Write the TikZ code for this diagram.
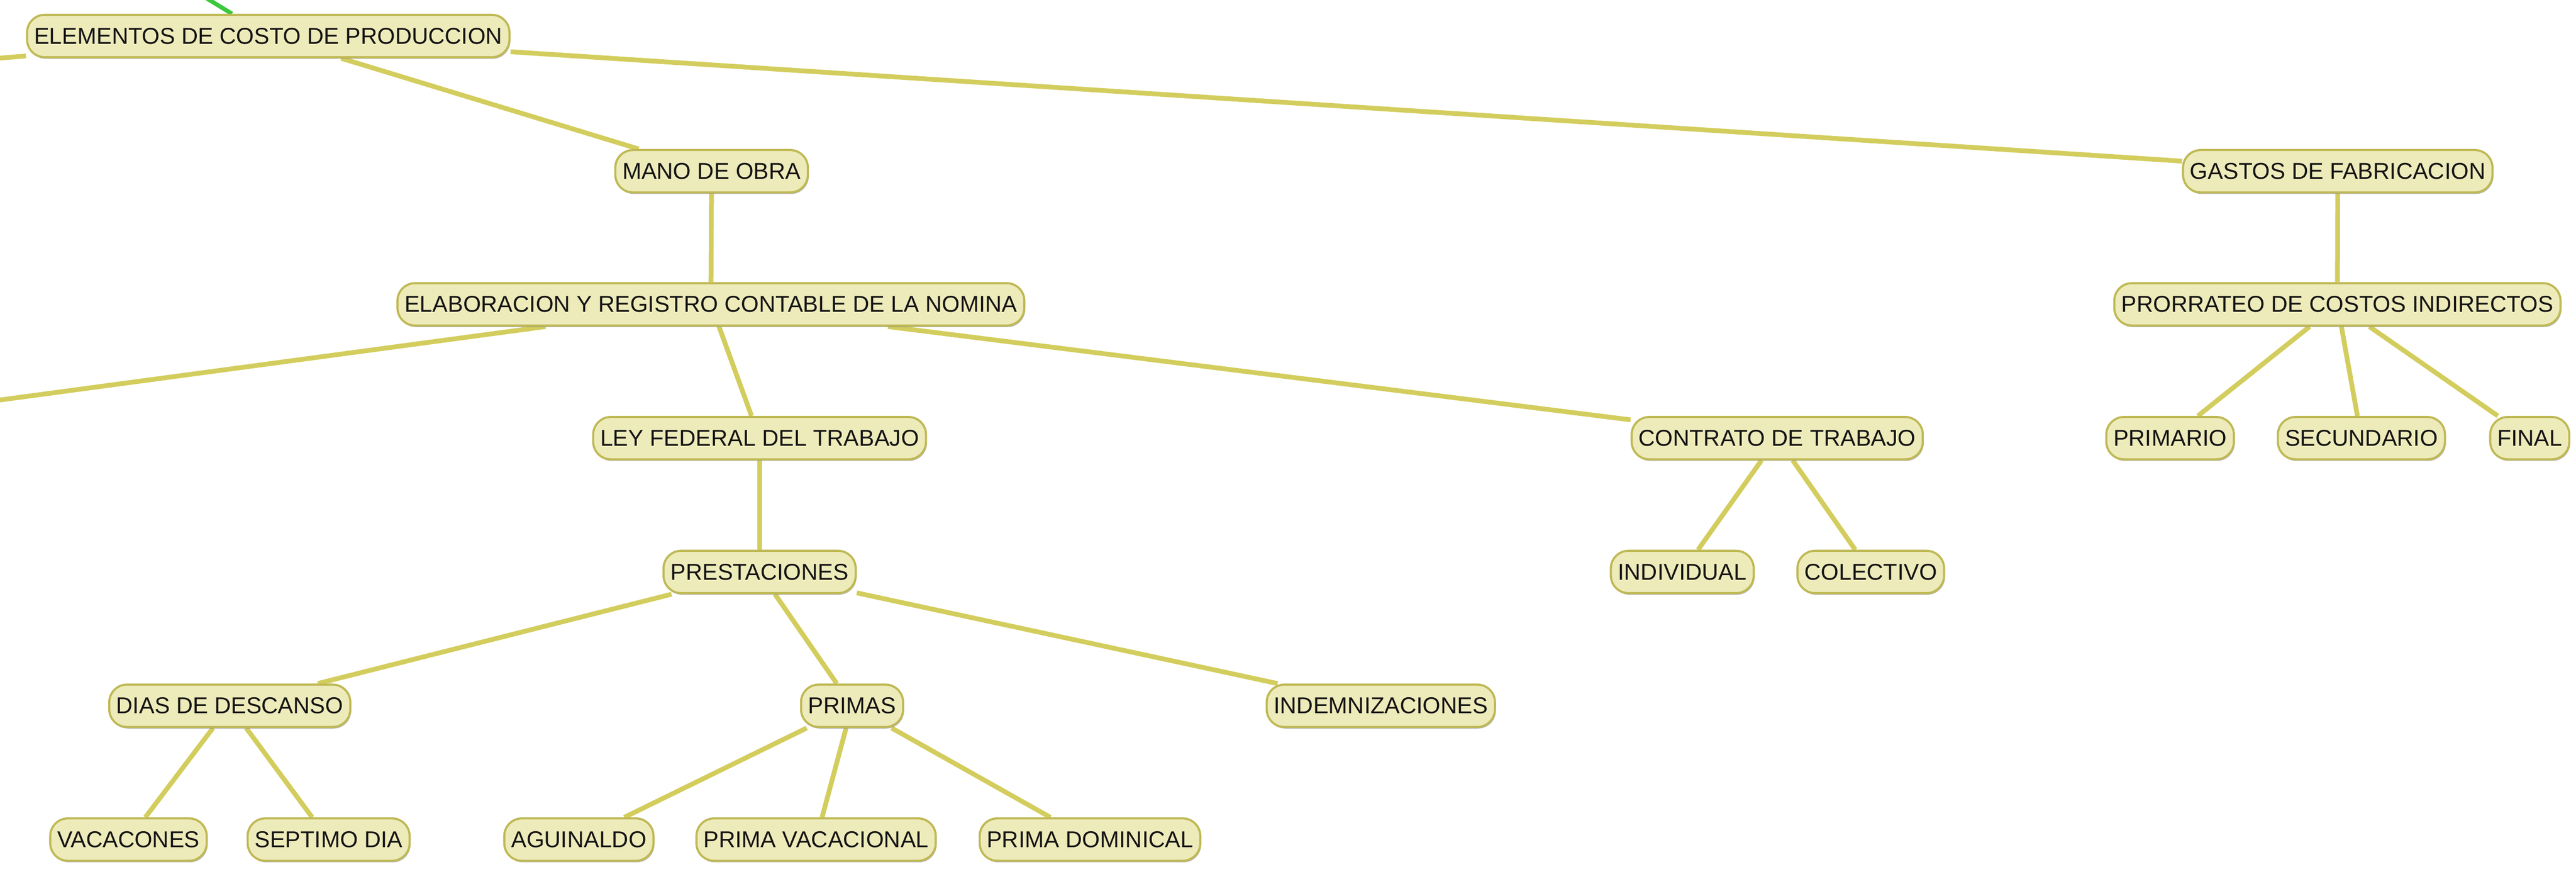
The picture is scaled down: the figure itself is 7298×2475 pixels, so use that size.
\documentclass[tikz,border=0pt]{standalone}
\usepackage{fontspec}
\setmainfont{Liberation Sans}
\usetikzlibrary{shadows}
\definecolor{cfill}{HTML}{EEEBBB}
\definecolor{cborder}{HTML}{BFB955}
\definecolor{linkcol}{HTML}{D3CD5E}
\definecolor{greenlink}{HTML}{3CC83C}
\pgfdeclarelayer{background}
\pgfsetlayers{background,main}
\tikzset{
  concept/.style={draw=cborder, line width=0.6pt, fill=cfill, rounded corners=5pt,
    minimum height=12pt, inner xsep=2.0pt, inner ysep=0pt, text=black!92,
    font=\fontsize{6.5pt}{7.8pt}\selectfont,
    drop shadow={shadow xshift=0.25pt, shadow yshift=-0.45pt, fill=black!50, opacity=0.55}},
  link/.style={draw=linkcol, line width=1.35pt},
  glink/.style={draw=greenlink, line width=1.2pt}
}
\begin{document}
\begin{tikzpicture}[x=0.1pt, y=-0.1pt]
\useasboundingbox (0,0) rectangle (7298,2475);
% nodes
\node[concept] (elem) at (760,102) {ELEMENTOS DE COSTO DE PRODUCCION};
\node[concept] (mano) at (2016,485) {MANO DE OBRA};
\node[concept] (gastos) at (6623,485) {GASTOS DE FABRICACION};
\node[concept] (elab) at (2014,862) {ELABORACION Y REGISTRO CONTABLE DE LA NOMINA};
\node[concept] (prorr) at (6622,862) {PRORRATEO DE COSTOS INDIRECTOS};
\node[concept] (ley) at (2152,1241) {LEY FEDERAL DEL TRABAJO};
\node[concept] (contrato) at (5035,1241) {CONTRATO DE TRABAJO};
\node[concept] (primario) at (6148,1241) {PRIMARIO};
\node[concept] (secund) at (6690,1241) {SECUNDARIO};
\node[concept] (final) at (7167,1241) {FINAL};
\node[concept] (prest) at (2152,1620) {PRESTACIONES};
\node[concept] (indiv) at (4766,1620) {INDIVIDUAL};
\node[concept] (colect) at (5300,1620) {COLECTIVO};
\node[concept] (dias) at (651,1999) {DIAS DE DESCANSO};
\node[concept] (primas) at (2414,1999) {PRIMAS};
\node[concept] (indemn) at (3912,1999) {INDEMNIZACIONES};
\node[concept] (vacac) at (364,2378) {VACACONES};
\node[concept] (septimo) at (931,2378) {SEPTIMO DIA};
\node[concept] (aguin) at (1640,2378) {AGUINALDO};
\node[concept] (pvac) at (2312,2378) {PRIMA VACACIONAL};
\node[concept] (pdom) at (3088,2378) {PRIMA DOMINICAL};
% off-page ends
\coordinate (offA) at (-1240,267);
\coordinate (offB) at (-1986,1400);
\coordinate (offG) at (260,-204);
\begin{pgfonlayer}{background}
\draw[glink] (offG) -- (elem);
\draw[link] (offA) -- (elem);
\draw[link] (offB) -- (elab);
\draw[link] (elem) -- (mano);
\draw[link] (elem) -- (gastos);
\draw[link] (mano) -- (elab);
\draw[link] (gastos) -- (prorr);
\draw[link] (elab) -- (ley);
\draw[link] (elab) -- (contrato);
\draw[link] (prorr) -- (primario);
\draw[link] (prorr) -- (secund);
\draw[link] (prorr) -- (final);
\draw[link] (ley) -- (prest);
\draw[link] (contrato) -- (indiv);
\draw[link] (contrato) -- (colect);
\draw[link] (prest) -- (dias);
\draw[link] (prest) -- (primas);
\draw[link] (prest) -- (indemn);
\draw[link] (dias) -- (vacac);
\draw[link] (dias) -- (septimo);
\draw[link] (primas) -- (aguin);
\draw[link] (primas) -- (pvac);
\draw[link] (primas) -- (pdom);
\end{pgfonlayer}
\end{tikzpicture}
\end{document}
